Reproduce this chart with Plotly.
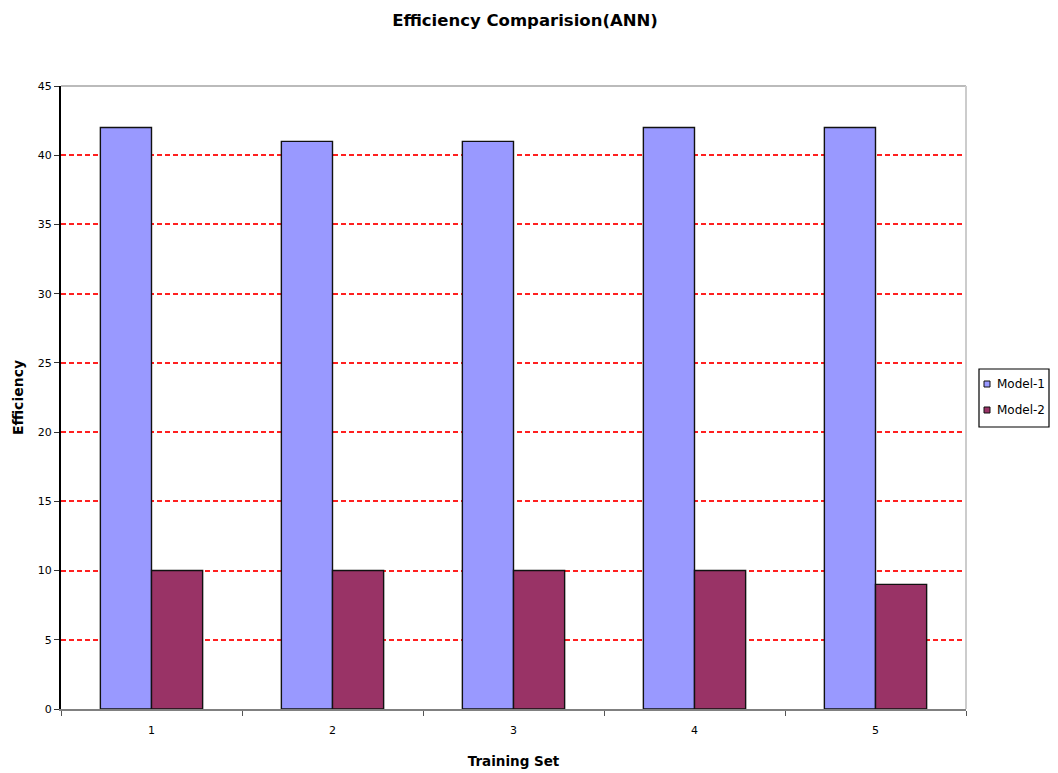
import plotly.graph_objects as go

training_sets = ["1", "2", "3", "4", "5"]
model1 = [42, 41, 41, 42, 42]
model2 = [10, 10, 10, 10, 9]
y_ticks = [0, 5, 10, 15, 20, 25, 30, 35, 40, 45]
series_names = ["Model-1", "Model-2"]
series_colors = ["#9999FF", "#993366"]

# figure geometry (page body adds an 8px offset)
W, H = 1042, 765
ML, MR, MT, MB = 53, 84, 78, 64
PW, PH = W - ML - MR, H - MT - MB


def px(x):
    return (x - ML) / PW


def py(y):
    return (H - MB - y) / PH


fig = go.Figure()
for name, vals, col in zip(series_names, [model1, model2], series_colors):
    fig.add_trace(go.Bar(x=training_sets, y=vals, name=name,
                         marker=dict(color=col, line=dict(color="#111111", width=1.4))))

fig.update_layout(
    width=W, height=H,
    paper_bgcolor="white", plot_bgcolor="white",
    margin=dict(l=ML, r=MR, t=MT, b=MB, autoexpand=False),
    font=dict(family="DejaVu Sans, Arial, sans-serif", size=11, color="black"),
    title=dict(text="<b>Efficiency Comparision(ANN)</b>", x=517 / W, xanchor="center",
               xref="container", yref="container", y=1 - 12 / H, yanchor="middle",
               font=dict(size=16.5)),
    barmode="group", bargap=0.435, bargroupgap=0,
    showlegend=False,
)
fig.update_xaxes(
    type="category", tickson="boundaries", ticks="outside", ticklen=5,
    tickcolor="#555555", showline=True, linecolor="#808080", linewidth=2,
    mirror=False, showgrid=False, automargin=False, ticklabelstandoff=10,
    title=dict(text="<b>Training Set</b>", font=dict(size=13.5), standoff=20),
)
fig.update_yaxes(
    range=[0, 45], tickvals=y_ticks, ticks="outside", ticklen=5, tickcolor="#333333",
    showline=True, linecolor="black", linewidth=2, automargin=False,
    showgrid=True, gridcolor="#FF2020", griddash="5px,3px", gridwidth=1.5,
    zeroline=False,
    title=dict(text="<b>Efficiency</b>", font=dict(size=14), standoff=11),
)
# light gray frame on top and right
fig.add_shape(type="line", xref="paper", yref="paper", x0=0, x1=1, y0=1, y1=1,
              line=dict(color="#BBBBBB", width=2), layer="above")
fig.add_shape(type="line", xref="paper", yref="paper", x0=1, x1=1, y0=0, y1=1,
              line=dict(color="#CCCCCC", width=2), layer="above")

# legend box (drawn to match the original compact legend)
fig.add_shape(type="rect", xref="paper", yref="paper",
              x0=px(971), x1=px(1041), y0=py(361), y1=py(419),
              line=dict(color="black", width=1.2), fillcolor="white", layer="above")
for i, (name, col) in enumerate(zip(series_names, series_colors)):
    cy = 376 + i * 26
    fig.add_shape(type="rect", xref="paper", yref="paper",
                  x0=px(976), x1=px(982), y0=py(cy - 3), y1=py(cy + 3),
                  line=dict(color="#111111", width=1), fillcolor=col, layer="above")
    fig.add_annotation(text=name, xref="paper", yref="paper", x=px(987), y=py(cy),
                       xanchor="left", yanchor="middle", showarrow=False,
                       font=dict(size=12))

fig.write_html("out.html")
